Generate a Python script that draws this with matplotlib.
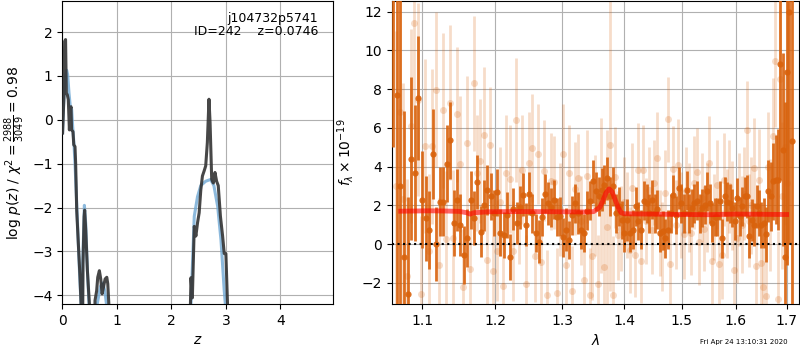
import numpy as np
import matplotlib
matplotlib.use("Agg")
import matplotlib.pyplot as plt
from matplotlib.ticker import NullLocator, NullFormatter, FixedLocator

# ---------------- left panel: log p(z) ----------------
z_pz = [0.005, 0.03, 0.043, 0.06, 0.074, 0.092, 0.11, 0.13, 0.147, 0.16, 0.17, 0.196,
        0.21, 0.233, 0.245, 0.264, 0.294, 0.325, 0.344, 0.356, 0.38, 0.40, 0.41, 0.43,
        0.46, 0.50, 0.51, 0.577, 0.60, 0.63, 0.65, 0.68, 0.705, 0.73, 0.755, 0.785,
        0.816, 0.834, 0.86, 0.88,
        2.30, 2.35, 2.36, 2.385, 2.42, 2.45, 2.48, 2.51, 2.54, 2.57, 2.60, 2.63, 2.66,
        2.69, 2.71, 2.74, 2.77, 2.80, 2.83, 2.86, 2.90, 2.94, 2.97, 3.00, 3.03, 3.06]
logp = [-0.30, 0.53, 1.79, 1.83, 0.61, 0.57, 0.46, -0.23, 0.23, 0.30, -0.23, -0.27,
        -0.57, -0.61, -1.00, -2.06, -2.82, -3.59, -4.20, -8.0, -3.28, -2.21, -2.06, -2.52,
        -3.43, -4.27, -8.0, -8.0, -4.12, -3.90, -3.59, -3.44, -3.63, -3.97, -3.82, -3.63,
        -3.59, -3.74, -4.35, -8.0,
        -8.0, -4.20, -3.60, -4.06, -2.43, -2.65, -2.35, -2.12, -1.60, -1.28, -1.17, -1.05, -0.52,
        0.47, -0.06, -1.36, -1.44, -1.20, -1.40, -1.50, -2.20, -2.65, -3.05, -3.05, -4.20, -8.0]

z_smooth = [0.005, 0.018, 0.05, 0.08, 0.098, 0.123, 0.147, 0.172, 0.19, 0.215, 0.233,
            0.264, 0.294, 0.32, 0.344, 0.36, 0.374, 0.405, 0.43, 0.46, 0.49, 0.52,
            0.62, 0.64, 0.70, 0.74, 0.78, 0.81, 0.84,
            2.33, 2.36, 2.42, 2.48, 2.54, 2.63, 2.72, 2.78, 2.85, 2.91, 2.97, 2.99, 3.02]
logp_smooth = [-0.30, 0.23, 0.92, 1.13, 1.03, 0.61, 0.30, 0.23, -0.15, -0.57, -1.00,
               -1.90, -2.82, -3.60, -4.20, -6.0, -3.28, -1.95, -2.37, -3.43, -4.20, -8.0,
               -8.0, -4.20, -3.80, -3.72, -3.90, -4.20, -8.0,
               -8.0, -4.20, -2.20, -1.75, -1.50, -1.40, -1.36, -1.50, -1.98, -2.74, -3.90, -4.20, -8.0]

# ---------------- right panel: spectrum ----------------
wave_a_start, wave_a_step = 1.062, 0.0047
flux_a = [15, 7.7, 3.0, -0.64, -2.57, 4.41, 3.67, 7.55, 2.3, 1.34,
          0.74, 4.65, 0.0, 2.2, 2.2, 4.15, 5.35, 1.1, 2.3, 1.0,
          -0.55, 0.3, 2.3, 1.35, 3.19, 0.65, 2.0, 2.81, 2.46, 1.6,
          2.67, 0.6, 0.47, 1.5, -0.67, 1.82, 1.1, 1.9, 2.56, 1.0,
          2.6, 1.6, 0.57, 0.13, 1.4, 2.6, 2.1, 1.9, 2.3, 1.4,
          1.43, 0.36, 0.74, 0.22, 1.48, 2.1, 1.6, 0.74, 0.57, 1.73,
          2.25, 3.24, 2.72, 2.46, 2.81, 3.07, 3.4, 2.46, 2.98, 1.6,
          1.95, 1.25, 0.57, 1.25, 0.57, 0.74, 1.95, 1.2, 0.74, 2.25,
          2.1, 1.6, 2.3, 1.6, 1.8, 0.57, 0.7, 0.3, 0.74, 1.6,
          2.56, 1.5, 2.9, 2.1, 1.6, 2.78, 1.6, 1.86, 2.1, 2.25,
          1.6, 1.86, 2.04, 2.72, 2.1, 1.1, 1.4, 1.4, 2.25, 0.3,
          2.46, 2.2, 2.1, 1.86, 1.2, 2.4, 1.43, 1.95, 2.46, 2.46,
          0.4, 1.25, 1.0, 1.95, 1.6, 0.98, 1.1, 0.5, 2.72, 2.46,
          3.24, 3.33, 3.33, 9.3, 4.88, -0.64, 8.9, 12.0, 5.3]
err_a = [10, 14, 12, 7.5, 5, 4.2, 3.5, 3.2, 2.5, 2.2,
         2.0, 2.3, 1.9, 1.8, 1.8, 2.0, 2.0, 1.7, 1.6, 1.6,
         1.5, 1.5, 1.5, 1.4, 1.4, 1.3, 1.3, 1.3, 1.2, 1.2,
         1.2, 1.2, 1.2, 1.2, 1.2, 1.1, 1.1, 1.1, 1.1, 1.1,
         1.1, 1.0, 1.0, 1.1, 1.0, 1.0, 1.1, 1.0, 1.0, 1.0,
         1.0, 1.0, 1.1, 1.0, 1.0, 1.0, 1.1, 1.0, 1.0, 1.0,
         1.0, 1.1, 1.0, 1.0, 1.1, 1.0, 1.1, 1.0, 1.0, 1.0,
         1.0, 1.0, 1.0, 1.1, 1.0, 1.0, 1.0, 1.0, 1.0, 1.0,
         1.0, 1.0, 1.0, 1.0, 1.0, 1.0, 1.0, 1.0, 1.0, 1.0,
         1.0, 1.0, 1.1, 1.0, 1.0, 1.0, 1.0, 1.0, 1.0, 1.0,
         1.0, 1.0, 1.0, 1.0, 1.0, 1.0, 1.0, 1.0, 1.0, 1.0,
         1.0, 1.0, 1.0, 1.0, 1.0, 1.0, 1.0, 1.0, 1.0, 1.1,
         1.1, 1.1, 1.1, 1.1, 1.2, 1.2, 1.3, 1.4, 1.6, 1.8,
         2.0, 2.3, 2.6, 6.0, 5.0, 8.0, 10.0, 12.0, 14.0]

wave_b_start, wave_b_step = 1.066, 0.0047
flux_b = [3.0, 6.8, 2.34, -1.64, 6.08, 11.43, 7.46, -2.57,
          5.05, -0.37, 5.05, 7.98, -1.1, 6.9, 0.26, 7.3, 0.31, 6.7, 4.15, -2.2, 5.2, -1.3, 8.3,
          3.67, 4.28, 5.65, -0.83, 5.1, -1.4, -0.33, 2.2, -2.15, 3.66, 3.37, -0.35, 6.4, 1.5,
          3.85, -2.05, 4.2, 4.97, -0.6, 4.65, -0.9, 3.8, -2.6, 3.24, 3.2, -2.5, 1.8,
          4.65, -1.1, 3.65, -2.4, 2.85, 3.4, 1.2, -1.84, 3.5, -2.62, -0.6, 2.0, -2.05, 2.5,
          -1.17, 0.9, 5.1, -2.6, 3.45, 0.45, 0.8, 2.2, 1.5, -0.3, 2.9, -0.55, 3.85, -0.85,
          3.85, 1.2,
          2.8, 0.74, 3.17, 4.43, 0.57, -0.13, 2.65, 6.45, -1.05, 3.9, 1.0, 4.06, 1.5, 0.5,
          2.8, 1.9, 0.6, 3.17, 3.7, 0.1, 2.4, 0.8, 1.9, 4.2, -0.85, 1.4, 3.06, -1.05,
          -0.55, 3.33, 1.6, 3.0, 2.0, -1.35, 0.3, 2.3, 1.0, 2.6, 5.91, 1.2, 2.0, 3.93,
          -1.12, 3.33, -0.97, -2.2, -2.7, 4.0, 1.5, 5.6, 9.45, -2.84, 8.5, 2.5, 5.0, 3.15]
err_b = [8, 6, 6, 5, 5, 5.5, 5, 4,
         4.5, 4, 4, 4, 3.5, 4, 3.5, 4, 3.5, 3.5, 3.5, 3, 3.5, 3, 3.5,
         3, 3.2, 3.5, 2.8, 3, 2.8, 2.6, 2.8, 2.6, 3, 2.8, 2.6, 3.2, 2.5,
         2.8, 2.5, 2.6, 2.8, 2.4, 2.6, 2.4, 2.6, 2.3, 2.5, 2.4, 2.3, 2.4,
         2.6, 2.3, 2.5, 2.3, 2.4, 2.3, 2.3, 2.3, 2.4, 2.4, 2.3, 2.6, 2.5, 4.0,
         3.5, 5.0, 7.5, 3.0, 2.6, 2.3, 2.2, 2.3, 2.2, 2.2, 2.3, 2.2, 2.4, 2.2,
         2.3, 2.2,
         2.2, 2.3, 2.2, 2.4, 2.2, 2.3, 2.2, 2.2, 2.3, 2.2, 2.3, 2.4, 2.2, 2.3,
         2.2, 2.3, 2.2, 2.4, 2.3, 2.2, 2.3, 2.2, 2.3, 2.4, 2.3, 2.2, 2.3, 2.3,
         2.3, 2.4, 2.3, 2.4, 2.3, 2.4, 2.3, 2.4, 2.5, 2.4, 2.5, 2.4, 2.5, 2.6,
         2.5, 2.6, 2.6, 2.7, 2.8, 2.8, 2.9, 3.0, 3.4, 3.5, 3.6, 3.8, 4.0, 4.2]

wave_model = [1.072, 1.09, 1.11, 1.13, 1.15, 1.16, 1.165, 1.17, 1.19, 1.22, 1.26, 1.30,
              1.34, 1.35, 1.36, 1.365, 1.37, 1.375, 1.38, 1.385, 1.39, 1.395, 1.40, 1.42,
              1.45, 1.50, 1.55, 1.60, 1.65, 1.70]
flux_model = [1.70, 1.71, 1.72, 1.71, 1.69, 1.62, 1.55, 1.62, 1.67, 1.68, 1.68, 1.67,
              1.66, 1.68, 1.90, 2.25, 2.65, 2.85, 2.70, 2.30, 1.90, 1.62, 1.57, 1.56,
              1.55, 1.53, 1.52, 1.55, 1.54, 1.53]

wave_ticks = [1.1, 1.2, 1.3, 1.4, 1.5, 1.6, 1.7]
wave_ticklabels = ['1.1', '1.2', '1.3', '1.4', '1.5', '1.6', '1.7']

obj_name = 'j104732p5741'
obj_info = 'ID=242    z=0.0746'
timestamp = 'Fri Apr 24 13:10:31 2020'

wave_a = wave_a_start + wave_a_step * np.arange(len(flux_a))
wave_b = wave_b_start + wave_b_step * np.arange(len(flux_b))
assert len(flux_a) == len(err_a), (len(flux_a), len(err_a))
assert len(flux_b) == len(err_b), (len(flux_b), len(err_b))

orange = '#d9620c'

fig = plt.figure(figsize=(8, 3.5), dpi=100)
ax1 = fig.add_axes([62.3 / 800, 46 / 350, 271 / 800, 303 / 350])
ax2 = fig.add_axes([391.7 / 800, 46 / 350, 407.6 / 800, 303 / 350])

ax1.plot(z_smooth, logp_smooth, color='#6fa8d4', alpha=0.8, lw=2.2, zorder=2)
ax1.plot(z_pz, logp, color='#333333', alpha=0.9, lw=2.2, zorder=3)
ax1.set_xlim(0, 4.97)
ax1.set_ylim(-4.2, 2.71)
ax1.set_xticks([0, 1, 2, 3, 4])
ax1.set_yticks([-4, -3, -2, -1, 0, 1, 2])
ax1.grid(True, color='#b0b0b0', lw=0.8)
ax1.set_axisbelow(True)
ax1.set_xlabel(r'$z$')
ax1.set_ylabel(r'$\log\,p(z)$ / $\chi^2=\frac{2988}{3049}=0.98$')
ax1.text(0.945, 0.965, obj_name + '\n' + obj_info, transform=ax1.transAxes,
         ha='right', va='top', fontsize=9, linespacing=1.0)

ax2.errorbar(wave_b, flux_b, yerr=err_b, fmt='o', color=orange, alpha=0.22,
             ms=5, elinewidth=2, mec='none', zorder=2)
ax2.errorbar(wave_a, flux_a, yerr=err_a, fmt='o', color=orange, alpha=0.9,
             ms=4.5, elinewidth=2, mec='none', zorder=3)
ax2.plot(wave_model, flux_model, color='red', alpha=0.6, lw=3.5, zorder=4)
ax2.axhline(0, color='k', ls=':', lw=1.5, zorder=5)
ax2.set_xscale('log')
ax2.set_xlim(1.0605, 1.726)
ax2.set_ylim(-3.09, 12.55)
ax2.xaxis.set_major_locator(FixedLocator(wave_ticks))
ax2.set_xticklabels(wave_ticklabels)
ax2.xaxis.set_minor_locator(NullLocator())
ax2.xaxis.set_minor_formatter(NullFormatter())
ax2.set_yticks([-2, 0, 2, 4, 6, 8, 10, 12])
ax2.grid(True, color='#b0b0b0', lw=0.8)
ax2.set_axisbelow(True)
ax2.set_xlabel(r'$\lambda$')
ax2.set_ylabel(r'$f_\lambda\times10^{-19}$')

fig.text(0.985, 0.015, timestamp, ha='right', va='bottom', fontsize=5)

fig.savefig('out.png', dpi=100)
